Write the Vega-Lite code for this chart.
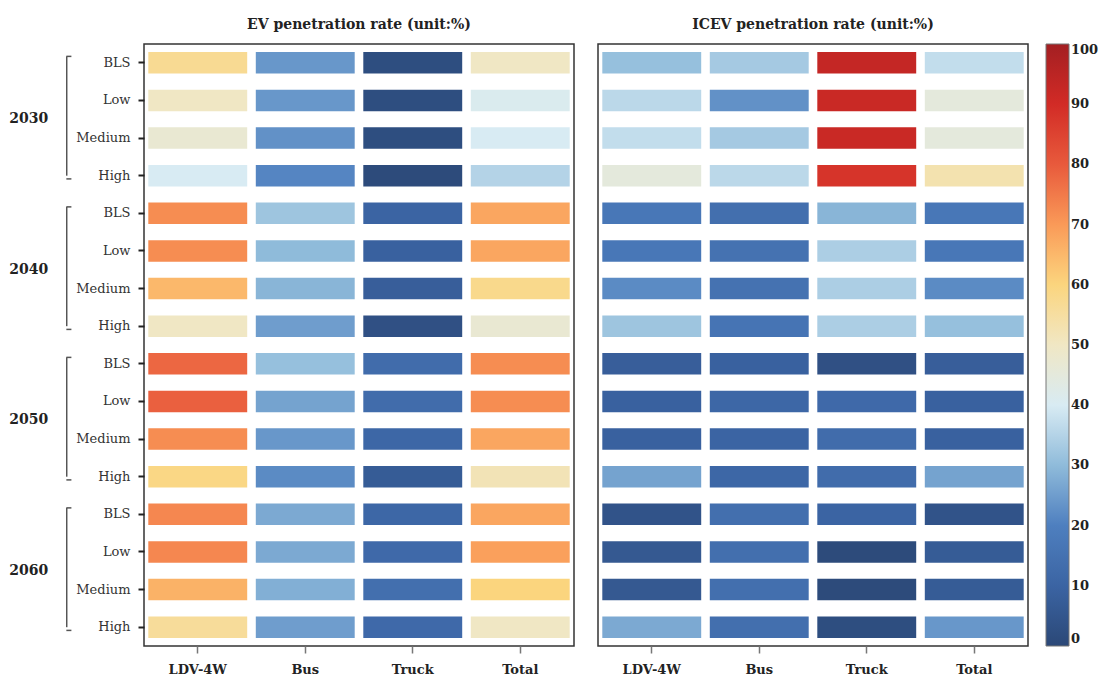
{
  "$schema": "https://vega.github.io/schema/vega-lite/v6.json",
  "padding": {"left": 0, "top": 17, "right": 5, "bottom": 5},
  "background": "white",
  "config": {
    "font": "DejaVu Serif",
    "view": {"stroke": "#333", "strokeWidth": 1.5},
    "title": {"font": "DejaVu Serif", "fontSize": 14, "fontWeight": "bold", "color": "#222", "offset": 12, "anchor": "middle"},
    "axis": {"labelFont": "DejaVu Serif", "title": null, "domain": false},
    "legend": {
      "gradientLength": 602, "gradientThickness": 23, "labelFont": "DejaVu Serif", "labelFontWeight": "bold",
      "labelFontSize": 13, "labelColor": "#222", "labelOffset": 10, "offset": 17,
      "gradientStrokeColor": "#777", "gradientStrokeWidth": 1
    }
  },
  "datasets": {
    "years": [
      {"year": "2030", "top": "2030 BLS", "mid": "2030 Low", "bottom": "2030 High"},
      {"year": "2040", "top": "2040 BLS", "mid": "2040 Low", "bottom": "2040 High"},
      {"year": "2050", "top": "2050 BLS", "mid": "2050 Low", "bottom": "2050 High"},
      {"year": "2060", "top": "2060 BLS", "mid": "2060 Low", "bottom": "2060 High"}
    ],
    "cells": [
      {"row": "2030 BLS", "vehicle": "LDV-4W", "ev": 57, "icev": 31},
      {"row": "2030 BLS", "vehicle": "Bus", "ev": 24, "icev": 33},
      {"row": "2030 BLS", "vehicle": "Truck", "ev": 2, "icev": 93},
      {"row": "2030 BLS", "vehicle": "Total", "ev": 50, "icev": 37},
      {"row": "2030 Low", "vehicle": "LDV-4W", "ev": 50, "icev": 36},
      {"row": "2030 Low", "vehicle": "Bus", "ev": 24, "icev": 23},
      {"row": "2030 Low", "vehicle": "Truck", "ev": 2, "icev": 92},
      {"row": "2030 Low", "vehicle": "Total", "ev": 41, "icev": 45},
      {"row": "2030 Medium", "vehicle": "LDV-4W", "ev": 47, "icev": 37},
      {"row": "2030 Medium", "vehicle": "Bus", "ev": 23, "icev": 33},
      {"row": "2030 Medium", "vehicle": "Truck", "ev": 2, "icev": 92},
      {"row": "2030 Medium", "vehicle": "Total", "ev": 40, "icev": 45},
      {"row": "2030 High", "vehicle": "LDV-4W", "ev": 40, "icev": 45},
      {"row": "2030 High", "vehicle": "Bus", "ev": 21, "icev": 36},
      {"row": "2030 High", "vehicle": "Truck", "ev": 1, "icev": 88},
      {"row": "2030 High", "vehicle": "Total", "ev": 35, "icev": 53},
      {"row": "2040 BLS", "vehicle": "LDV-4W", "ev": 72, "icev": 17},
      {"row": "2040 BLS", "vehicle": "Bus", "ev": 32, "icev": 14},
      {"row": "2040 BLS", "vehicle": "Truck", "ev": 10, "icev": 29},
      {"row": "2040 BLS", "vehicle": "Total", "ev": 68, "icev": 17},
      {"row": "2040 Low", "vehicle": "LDV-4W", "ev": 72, "icev": 17},
      {"row": "2040 Low", "vehicle": "Bus", "ev": 30, "icev": 15},
      {"row": "2040 Low", "vehicle": "Truck", "ev": 9, "icev": 34},
      {"row": "2040 Low", "vehicle": "Total", "ev": 68, "icev": 17},
      {"row": "2040 Medium", "vehicle": "LDV-4W", "ev": 65, "icev": 22},
      {"row": "2040 Medium", "vehicle": "Bus", "ev": 29, "icev": 15},
      {"row": "2040 Medium", "vehicle": "Truck", "ev": 8, "icev": 34},
      {"row": "2040 Medium", "vehicle": "Total", "ev": 58, "icev": 22},
      {"row": "2040 High", "vehicle": "LDV-4W", "ev": 50, "icev": 32},
      {"row": "2040 High", "vehicle": "Bus", "ev": 25, "icev": 16},
      {"row": "2040 High", "vehicle": "Truck", "ev": 3, "icev": 34},
      {"row": "2040 High", "vehicle": "Total", "ev": 47, "icev": 31},
      {"row": "2050 BLS", "vehicle": "LDV-4W", "ev": 78, "icev": 8},
      {"row": "2050 BLS", "vehicle": "Bus", "ev": 31, "icev": 9},
      {"row": "2050 BLS", "vehicle": "Truck", "ev": 13, "icev": 3},
      {"row": "2050 BLS", "vehicle": "Total", "ev": 72, "icev": 8},
      {"row": "2050 Low", "vehicle": "LDV-4W", "ev": 79, "icev": 9},
      {"row": "2050 Low", "vehicle": "Bus", "ev": 26, "icev": 11},
      {"row": "2050 Low", "vehicle": "Truck", "ev": 13, "icev": 12},
      {"row": "2050 Low", "vehicle": "Total", "ev": 72, "icev": 9},
      {"row": "2050 Medium", "vehicle": "LDV-4W", "ev": 72, "icev": 9},
      {"row": "2050 Medium", "vehicle": "Bus", "ev": 24, "icev": 10},
      {"row": "2050 Medium", "vehicle": "Truck", "ev": 11, "icev": 13},
      {"row": "2050 Medium", "vehicle": "Total", "ev": 68, "icev": 9},
      {"row": "2050 High", "vehicle": "LDV-4W", "ev": 59, "icev": 26},
      {"row": "2050 High", "vehicle": "Bus", "ev": 22, "icev": 11},
      {"row": "2050 High", "vehicle": "Truck", "ev": 7, "icev": 13},
      {"row": "2050 High", "vehicle": "Total", "ev": 52, "icev": 26},
      {"row": "2060 BLS", "vehicle": "LDV-4W", "ev": 73, "icev": 4},
      {"row": "2060 BLS", "vehicle": "Bus", "ev": 27, "icev": 14},
      {"row": "2060 BLS", "vehicle": "Truck", "ev": 11, "icev": 10},
      {"row": "2060 BLS", "vehicle": "Total", "ev": 68, "icev": 4},
      {"row": "2060 Low", "vehicle": "LDV-4W", "ev": 73, "icev": 6},
      {"row": "2060 Low", "vehicle": "Bus", "ev": 27, "icev": 14},
      {"row": "2060 Low", "vehicle": "Truck", "ev": 12, "icev": 1},
      {"row": "2060 Low", "vehicle": "Total", "ev": 69, "icev": 7},
      {"row": "2060 Medium", "vehicle": "LDV-4W", "ev": 66, "icev": 6},
      {"row": "2060 Medium", "vehicle": "Bus", "ev": 28, "icev": 14},
      {"row": "2060 Medium", "vehicle": "Truck", "ev": 14, "icev": 1},
      {"row": "2060 Medium", "vehicle": "Total", "ev": 60, "icev": 7},
      {"row": "2060 High", "vehicle": "LDV-4W", "ev": 56, "icev": 27},
      {"row": "2060 High", "vehicle": "Bus", "ev": 25, "icev": 14},
      {"row": "2060 High", "vehicle": "Truck", "ev": 12, "icev": 2},
      {"row": "2060 High", "vehicle": "Total", "ev": 50, "icev": 24}
    ]
  },
  "hconcat": [
    {
      "width": 120,
      "height": 602,
      "view": {"stroke": null},
      "data": {"name": "years"},
      "layer": [
        {
          "mark": {"type": "text", "fontWeight": "bold", "fontSize": 14, "font": "DejaVu Serif", "color": "#222", "dy": 19, "align": "center", "baseline": "middle"},
          "encoding": {
            "y": {"field": "mid", "type": "nominal", "axis": null, "scale": {"type": "band", "domain": ["2030 BLS","2030 Low","2030 Medium","2030 High","2040 BLS","2040 Low","2040 Medium","2040 High","2050 BLS","2050 Low","2050 Medium","2050 High","2060 BLS","2060 Low","2060 Medium","2060 High"], "paddingInner": 0.43, "paddingOuter": 0.215}},
            "x": {"datum": 0.24, "type": "quantitative", "axis": null, "scale": {"domain": [0, 1]}},
            "text": {"field": "year", "type": "nominal"}
          }
        },
        {
          "mark": {"type": "rule", "color": "#555", "strokeWidth": 1.5},
          "encoding": {
            "y": {"field": "top", "type": "nominal", "bandPosition": 0.2},
            "y2": {"field": "bottom"},
            "x": {"datum": 0.556, "type": "quantitative"}
          }
        },
        {
          "mark": {"type": "rule", "color": "#555", "strokeWidth": 1.5},
          "encoding": {
            "y": {"field": "top", "type": "nominal", "bandPosition": 0.2},
            "x": {"datum": 0.553, "type": "quantitative"},
            "x2": {"datum": 0.595}
          }
        },
        {
          "mark": {"type": "rule", "color": "#555", "strokeWidth": 1.5},
          "encoding": {
            "y": {"field": "bottom", "type": "nominal", "bandPosition": 0.65},
            "x": {"datum": 0.553, "type": "quantitative"},
            "x2": {"datum": 0.595}
          }
        }
      ]
    },
    {
      "width": 430,
      "height": 602,
      "title": "EV penetration rate (unit:%)",
      "data": {"name": "cells"},
      "mark": {"type": "rect"},
      "encoding": {
        "x": {
          "field": "vehicle", "type": "nominal",
          "scale": {"domain": ["LDV-4W", "Bus", "Truck", "Total"], "paddingInner": 0.08, "paddingOuter": 0.04},
          "axis": {"orient": "bottom", "labelAngle": 0, "tickSize": 7, "tickColor": "#777", "tickWidth": 1.5, "labelFontWeight": "bold", "labelFontSize": 13, "labelPadding": 10, "labelColor": "#222"}
        },
        "y": {
          "field": "row", "type": "nominal",
          "scale": {"domain": ["2030 BLS","2030 Low","2030 Medium","2030 High","2040 BLS","2040 Low","2040 Medium","2040 High","2050 BLS","2050 Low","2050 Medium","2050 High","2060 BLS","2060 Low","2060 Medium","2060 High"], "paddingInner": 0.43, "paddingOuter": 0.215},
          "axis": {"labelExpr": "split(datum.value, ' ')[1]", "tickSize": 6, "tickWidth": 2, "tickColor": "#222", "labelPadding": 8, "labelFontSize": 13, "labelColor": "#333"}
        },
        "color": {
          "field": "ev", "type": "quantitative",
          "scale": {"domain": [0, 10, 20, 30, 40, 50, 60, 70, 80, 90, 100], "interpolate": "rgb", "range": ["#2b4877", "#3b64a3", "#4e7fbf", "#8fbbda", "#d8ebf3", "#f0e7c4", "#fbd57e", "#fa9a58", "#e85a3c", "#d22b26", "#a31f22"]},
          "legend": {"title": null, "values": [0, 10, 20, 30, 40, 50, 60, 70, 80, 90, 100], "direction": "vertical"}
        }
      }
    },
    {
      "width": 430,
      "height": 602,
      "title": "ICEV penetration rate (unit:%)",
      "data": {"name": "cells"},
      "mark": {"type": "rect"},
      "encoding": {
        "x": {
          "field": "vehicle", "type": "nominal",
          "scale": {"domain": ["LDV-4W", "Bus", "Truck", "Total"], "paddingInner": 0.08, "paddingOuter": 0.04},
          "axis": {"orient": "bottom", "labelAngle": 0, "tickSize": 7, "tickColor": "#777", "tickWidth": 1.5, "labelFontWeight": "bold", "labelFontSize": 13, "labelPadding": 10, "labelColor": "#222"}
        },
        "y": {
          "field": "row", "type": "nominal",
          "scale": {"domain": ["2030 BLS","2030 Low","2030 Medium","2030 High","2040 BLS","2040 Low","2040 Medium","2040 High","2050 BLS","2050 Low","2050 Medium","2050 High","2060 BLS","2060 Low","2060 Medium","2060 High"], "paddingInner": 0.43, "paddingOuter": 0.215},
          "axis": null
        },
        "color": {
          "field": "icev", "type": "quantitative",
          "scale": {"domain": [0, 10, 20, 30, 40, 50, 60, 70, 80, 90, 100], "interpolate": "rgb", "range": ["#2b4877", "#3b64a3", "#4e7fbf", "#8fbbda", "#d8ebf3", "#f0e7c4", "#fbd57e", "#fa9a58", "#e85a3c", "#d22b26", "#a31f22"]},
          "legend": {"title": null, "values": [0, 10, 20, 30, 40, 50, 60, 70, 80, 90, 100], "direction": "vertical"}
        }
      }
    }
  ],
  "spacing": 24,
  "bounds": "flush",
  "resolve": {"scale": {"color": "shared", "y": "independent", "x": "independent"}, "legend": {"color": "shared"}}
}
